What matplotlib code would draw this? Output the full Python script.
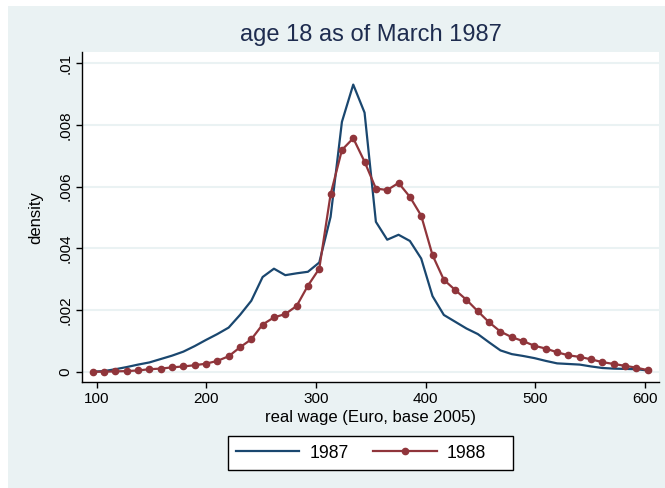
import matplotlib
matplotlib.use("Agg")
from matplotlib import pyplot as plt
from matplotlib.patches import Rectangle
import numpy as np

# kdensity grid (50 points between min and max wage)
wage = np.linspace(96.4, 602.7, 50)

dens_1987 = [0, 0.00002, 0.00008, 0.00015, 0.00023, 0.0003, 0.00041, 0.00052, 0.00065, 0.00083,
             0.00103, 0.00122, 0.00143, 0.00184, 0.0023, 0.00307, 0.00334, 0.00313, 0.00319, 0.00324,
             0.00354, 0.00502, 0.0081, 0.00931, 0.0084, 0.00486, 0.00428, 0.00444, 0.00424, 0.00367,
             0.00245, 0.00184, 0.00162, 0.0014, 0.00122, 0.00095, 0.00069, 0.00057, 0.00051, 0.00044,
             0.00035, 0.00027, 0.00025, 0.00023, 0.00017, 0.00012, 0.0001, 0.00009, 0.00008, 0.00004]

dens_1988 = [0, 0, 0.00001, 0.00002, 0.00004, 0.00008, 0.0001, 0.00014, 0.00017, 0.00021,
             0.00026, 0.00035, 0.0005, 0.00079, 0.00105, 0.00153, 0.00176, 0.00187, 0.00213, 0.00279,
             0.00334, 0.00575, 0.00719, 0.00757, 0.00681, 0.00594, 0.00589, 0.00612, 0.00567, 0.00506,
             0.00378, 0.00298, 0.00265, 0.00233, 0.00196, 0.0016, 0.0013, 0.00112, 0.00099, 0.00084,
             0.00075, 0.00063, 0.00053, 0.00048, 0.0004, 0.00031, 0.00025, 0.00019, 0.00013, 0.00005]

xticks = [100, 200, 300, 400, 500, 600]
yticks = [0, 0.002, 0.004, 0.006, 0.008, 0.01]
ytick_labels = ["0", ".002", ".004", ".006", ".008", ".01"]

bg = "#EAF2F3"
navy = "#1A476F"
maroon = "#90353B"
title_col = "#1E2C4F"

plt.rcParams['font.family'] = ['Liberation Sans', 'DejaVu Sans']

W, H = 665, 488
fig = plt.figure(figsize=(W / 100, H / 100), dpi=100)
fig.patch.set_facecolor("white")
fig.patches.append(Rectangle((8 / W, 0), 1, 1 - 6 / H, transform=fig.transFigure,
                             facecolor=bg, edgecolor="none", zorder=-10))

ax = fig.add_axes([82 / W, 1 - 382.3 / H, (659 - 82) / W, (382.3 - 52.3) / H])
ax.set_facecolor("white")

ax.plot(wage, dens_1987, color=navy, lw=1.6, label="1987", zorder=3)
ax.plot(wage, dens_1988, color=maroon, lw=1.6, marker="o", markersize=4.5, label="1988", zorder=4)

ax.set_xlim(86.6, 613)
ax.set_ylim(-0.000344, 0.010357)
ax.set_xticks(xticks)
ax.set_yticks(yticks)
ax.set_yticklabels(ytick_labels, rotation=90, va="center")
ax.tick_params(labelsize=11, length=4, width=1, color="black", pad=3)
ax.grid(axis="y", color=bg, lw=1.5)
ax.set_axisbelow(True)
for s in ["top", "right"]:
    ax.spines[s].set_visible(False)
for s in ["left", "bottom"]:
    ax.spines[s].set_linewidth(1)

ax.set_xlabel("real wage (Euro, base 2005)", fontsize=12, labelpad=3)
ax.set_ylabel("density", fontsize=12, labelpad=11)
ax.set_title("age 18 as of March 1987", fontsize=17, color=title_col, pad=8)

# legend: stata-style box drawn by hand, entries placed inside it
fig.patches.append(Rectangle((228.3 / W, 1 - 470 / H), (512.7 - 228.3) / W, (470 - 435.7) / H,
                             transform=fig.transFigure, facecolor="white", edgecolor="black",
                             lw=1, zorder=5))
leg = fig.legend(*ax.get_legend_handles_labels(), loc="center left",
                 bbox_to_anchor=(235.7 / W, 1 - 453 / H), bbox_transform=fig.transFigure,
                 ncol=2, frameon=False, fontsize=12.7, handlelength=3.6, handletextpad=0.58,
                 columnspacing=1.4, borderpad=0, borderaxespad=0)
leg.set_zorder(6)

fig.savefig("out.png", dpi=100, facecolor=fig.get_facecolor())
